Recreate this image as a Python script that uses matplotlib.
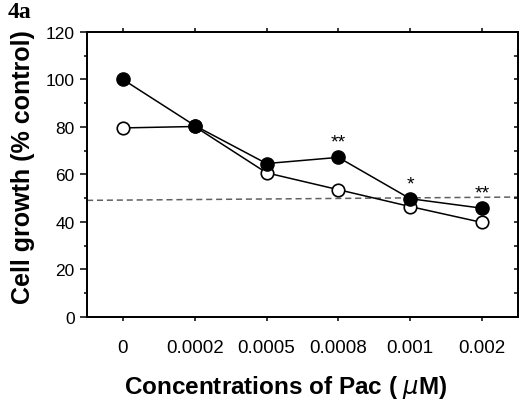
import matplotlib
matplotlib.use("Agg")
import matplotlib.pyplot as plt
from matplotlib.ticker import MultipleLocator

plt.rcParams.update({"font.family": "Liberation Sans"})

# data
conc_labels = ["0", "0.0002", "0.0005", "0.0008", "0.001", "0.002"]
growth_filled = [100, 80.6, 64.6, 67.2, 49.8, 45.8]
growth_open = [79.6, 80.2, 60.7, 53.6, 46.5, 39.8]
signif = ["", "", "", "**", "*", "**"]
ref_line = [49.1, 50.5]   # dashed 50% line, left/right ends

x = list(range(len(conc_labels)))

fig = plt.figure(figsize=(5.21, 4.02), dpi=100)
ax = fig.add_axes([0.167, 0.209, 0.827, 0.709])

ax.plot([-0.5, 5.5], ref_line, ls=(0, (4, 2.5)), color="#606060", lw=1.1, zorder=1)
ax.plot(x, growth_open, "-o", color="black", mfc="white", mec="black",
        ms=9, mew=1.2, lw=1.1, zorder=2)
ax.plot(x, growth_filled, "-o", color="black", ms=9.5, lw=1.1, zorder=3)

for xi, yi, s in zip(x, growth_filled, signif):
    if s:
        ax.text(xi, yi + 4.5, s, ha="center", va="baseline", fontsize=14)

ax.set_xlim(-0.5, 5.5)
ax.set_ylim(0, 120)
ax.set_xticks(x)
ax.set_xticklabels(conc_labels, fontsize=13.5)
ax.yaxis.set_major_locator(MultipleLocator(20))
ax.yaxis.set_minor_locator(MultipleLocator(10))
ax.tick_params(axis="y", labelsize=12.5, direction="out", length=5, width=1.1, pad=4)
ax.tick_params(axis="y", which="minor", direction="out", length=2.5, width=1.1)
ax.tick_params(axis="x", direction="out", length=3, width=1.1, top=True, pad=13)

ax2 = ax.twinx()
ax2.set_ylim(0, 120)
ax2.yaxis.set_major_locator(MultipleLocator(10))
ax2.tick_params(axis="y", direction="in", length=3, width=1.1, labelright=False)

for a in (ax, ax2):
    for sp in a.spines.values():
        sp.set_linewidth(1.3)

ax.set_ylabel("Cell growth (% control)", fontsize=18, fontweight="bold")
ax.yaxis.set_label_coords(-0.12, 0.53)
ax.set_xlabel("Concentrations of Pac ( $\\mu$M)", fontsize=17.5, fontweight="bold")
ax.xaxis.set_label_coords(0.462, -0.196)

fig.text(0.015, 0.995, "4a", ha="left", va="top", fontsize=17,
         fontweight="bold", family="Liberation Serif")

fig.savefig("out.png", dpi=100)
